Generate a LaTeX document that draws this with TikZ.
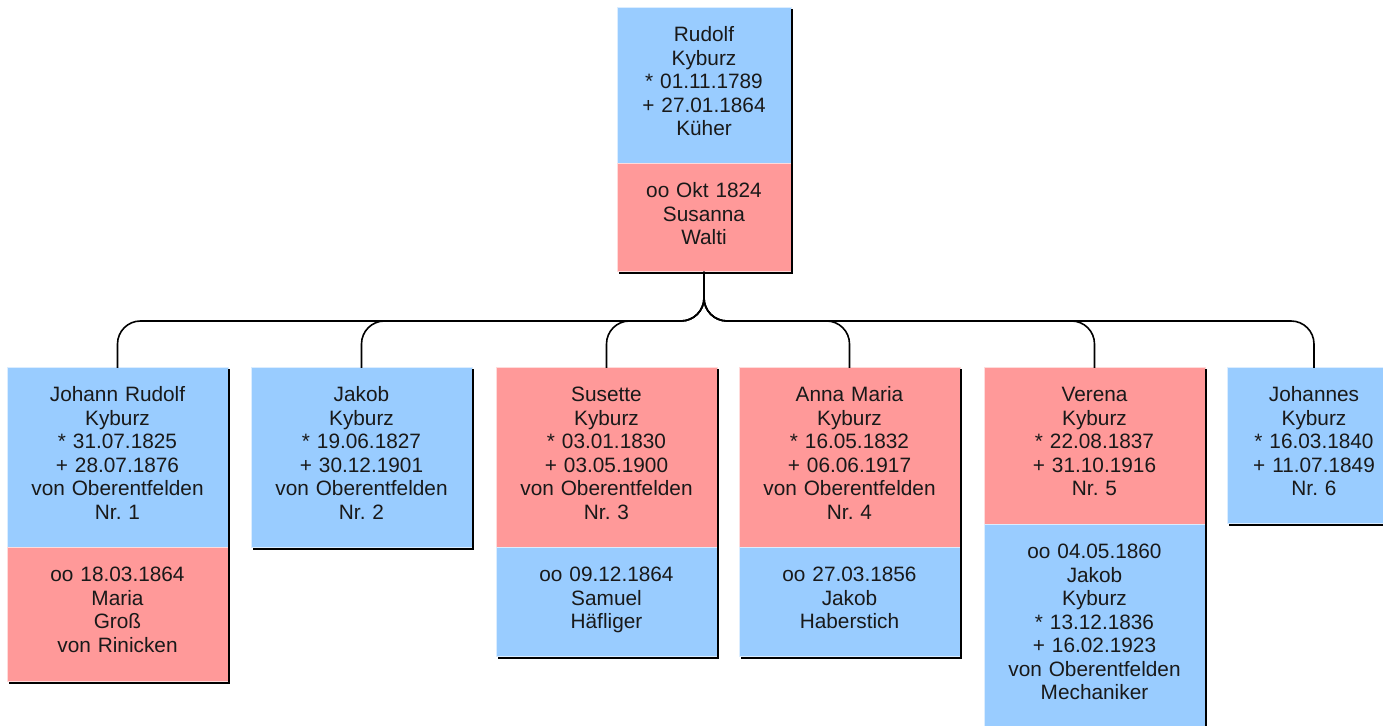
\documentclass[tikz,border=0pt]{standalone}
\usepackage{fontspec}
\setmainfont{Liberation Sans}
\usetikzlibrary{calc}
\definecolor{manblue}{HTML}{99CCFF}
\definecolor{womanred}{HTML}{FF9999}
\tikzset{
	part/.style={rectangle, inner sep=0pt, outer sep=0pt, align=center, text width=110.5pt,
		text height=17pt, text depth=#1, font=\fontsize{10.4}{11.75}\selectfont, text=black!90, line width=0.5pt},
	male/.style={part=#1, fill=manblue, draw=manblue!35!white},
	female/.style={part=#1, fill=womanred, draw=womanred!35!white},
	narrow/.style={text width=87pt},
	rim/.style={line width=1pt, draw=black},
	link/.style={line width=0.8pt, rounded corners=11.5pt},
}
\def\rim(#1)(#2){\draw[rim] ($(#1.north east)+(1,1)$) -- ($(#2.south east)+(1,1)$) -- ($(#2.south west)+(2,1)$);}

\begin{document}
\begin{tikzpicture}[x=0.5pt, y=-0.5pt]
			%%%%% START %%%%%
			
			\useasboundingbox (0,0) rectangle (1383,726);
			
			\node[male=61pt, narrow, anchor=north west] (rudolf) at (617,8) {Rudolf\\Kyburz\\{*} 01.11.1789\\+ 27.01.1864\\Küher};
			\node[female=37pt, narrow, anchor=north west] (susanna) at (rudolf.south west) {oo Okt 1824\\Susanna\\Walti};
			\rim(rudolf)(susanna)
			
			\node[male=73pt, anchor=north west] (jrudolf) at (7,368) {Johann Rudolf\\Kyburz\\{*} 31.07.1825\\+ 28.07.1876\\von Oberentfelden\\Nr.\ 1};
			\node[female=50pt, anchor=north west] (maria) at (jrudolf.south west) {oo 18.03.1864\\Maria\\Groß\\von Rinicken};
			\rim(jrudolf)(maria)
			
			\node[male=73pt, anchor=north west] (jakob) at (251,368) {Jakob\\Kyburz\\{*} 19.06.1827\\+ 30.12.1901\\von Oberentfelden\\Nr.\ 2};
			\rim(jakob)(jakob)
			
			\node[female=73pt, anchor=north west] (susette) at (496,368) {Susette\\Kyburz\\{*} 03.01.1830\\+ 03.05.1900\\von Oberentfelden\\Nr.\ 3};
			\node[male=37.5pt, anchor=north west] (samuel) at (susette.south west) {oo 09.12.1864\\Samuel\\Häfliger};
			\rim(susette)(samuel)
			
			\node[female=73pt, anchor=north west] (annamaria) at (739,368) {Anna Maria\\Kyburz\\{*} 16.05.1832\\+ 06.06.1917\\von Oberentfelden\\Nr.\ 4};
			\node[male=37.5pt, anchor=north west] (haberstich) at (annamaria.south west) {oo 27.03.1856\\Jakob\\Haberstich};
			\rim(annamaria)(haberstich)
			
			\node[female=61.5pt, anchor=north west] (verena) at (984,368) {Verena\\Kyburz\\{*} 22.08.1837\\+ 31.10.1916\\Nr.\ 5};
			\node[male=85pt, anchor=north west] (jkyburz) at (verena.south west) {oo 04.05.1860\\Jakob\\Kyburz\\{*} 13.12.1836\\+ 16.02.1923\\von Oberentfelden\\Mechaniker};
			\rim(verena)(jkyburz)
			
			\node[male=61pt, narrow, anchor=north west] (johannes) at (1227,368) {Johannes\\Kyburz\\{*} 16.03.1840\\+ 11.07.1849\\Nr.\ 6};
			\rim(johannes)(johannes)
			
			\coordinate (bar) at (susanna.south |- 0,321);
			\foreach \kid in {jrudolf,jakob,susette,annamaria,verena,johannes}
				\draw[link] (susanna.south) -- (bar) -- (\kid.north |- bar) -- (\kid.north);
			
			%%%%% END %%%%%
\end{tikzpicture}
\end{document}
